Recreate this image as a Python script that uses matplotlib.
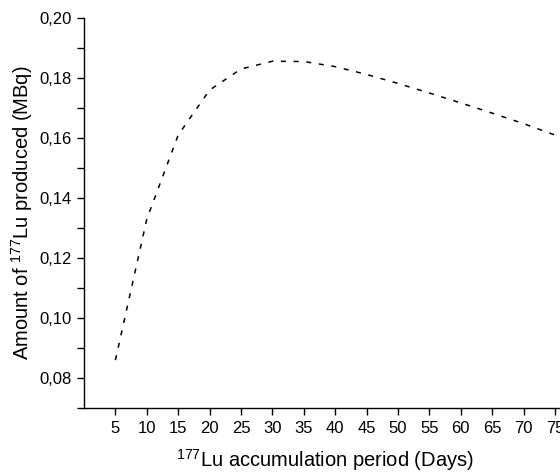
import matplotlib
matplotlib.use('Agg')
import matplotlib.pyplot as plt
from matplotlib.ticker import MultipleLocator, FuncFormatter

plt.rcParams['font.family'] = ['Liberation Sans', 'DejaVu Sans']
plt.rcParams['mathtext.fontset'] = 'custom'
plt.rcParams['mathtext.rm'] = 'Liberation Sans'

# accumulation period (days) and produced activity (MBq)
days = [5, 10, 15, 20, 25, 30, 35, 40, 45, 50, 55, 60, 65, 70, 75]
activity = [0.086, 0.133, 0.161, 0.176, 0.183, 0.1856, 0.1855, 0.1838,
            0.1812, 0.1782, 0.1750, 0.1717, 0.1683, 0.1648, 0.1610]
xticks = [5, 10, 15, 20, 25, 30, 35, 40, 45, 50, 55, 60, 65, 70, 75]

fig = plt.figure(figsize=(5.6, 4.74), dpi=100)
ax = fig.add_axes([0.15, 0.139, 0.85, 0.823])

ax.plot(days, activity, color='black', lw=1.1, linestyle=(0, (3.3, 5)))

ax.set_xlim(0, 75.8)
ax.set_ylim(0.07, 0.20)
ax.set_xticks(xticks)
ax.yaxis.set_major_locator(MultipleLocator(0.02))
ax.yaxis.set_minor_locator(MultipleLocator(0.01))
ax.yaxis.set_major_formatter(FuncFormatter(lambda v, p: f'{v:.2f}'.replace('.', ',')))

for s in ['top', 'right']:
    ax.spines[s].set_visible(False)
for s in ['left', 'bottom']:
    ax.spines[s].set_linewidth(1.0)

ax.tick_params(axis='both', which='both', direction='out', length=5, width=1.0,
               labelsize=12, pad=4)

ax.set_xlabel(r'$\mathregular{^{177}}$Lu accumulation period (Days)', fontsize=14.5)
ax.set_ylabel(r'Amount of $\mathregular{^{177}}$Lu produced (MBq)', fontsize=14.5)
ax.xaxis.set_label_coords(0.506, -0.1)
ax.yaxis.set_label_coords(-0.103, 0.5)

fig.savefig('out.png', dpi=100)
